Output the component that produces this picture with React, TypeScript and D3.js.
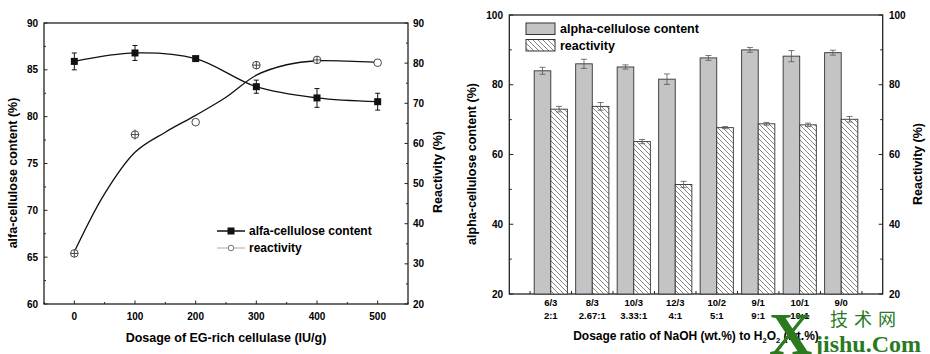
import { useEffect, useRef } from 'react';
import * as d3 from 'd3';

// left panel: EG-rich cellulase dosage
const dosage = [0, 100, 200, 300, 400, 500];
const alfaContent = [85.9, 86.8, 86.2, 83.2, 82.0, 81.6];
const alfaErr = [0.9, 0.8, 0.2, 0.7, 1.0, 0.9];
const reactivity = [32.6, 62.2, 65.3, 79.5, 80.8, 80.1];
const reactivityErr = [1.0, 1.2, 0, 1.0, 1.0, 0];
// smoothed curve for reactivity
const fitDosage = [0, 50, 100, 150, 200, 250, 300, 350, 400, 450, 500];
const reactivityFit = [33, 47.5, 57.8, 62.8, 67, 71.5, 77, 79.6, 80.6, 80.5, 80.2];
const leftTicksL = [60, 65, 70, 75, 80, 85, 90];
const leftTicksR = [20, 30, 40, 50, 60, 70, 80, 90];

// right panel: NaOH / H2O2 ratio
const ratioTop = ['6/3', '8/3', '10/3', '12/3', '10/2', '9/1', '10/1', '9/0'];
const ratioBottom = ['2:1', '2.67:1', '3.33:1', '4:1', '5:1', '9:1', '10:1', ''];
const alphaContent = [84.0, 86.0, 85.1, 81.6, 87.7, 90.0, 88.2, 89.2];
const alphaErr = [1.0, 1.3, 0.6, 1.5, 0.7, 0.7, 1.6, 0.7];
const ratioReactivity = [73.0, 73.8, 63.7, 51.4, 67.7, 68.8, 68.5, 70.1];
const ratioReactivityErr = [0.8, 1.1, 0.6, 0.9, 0.3, 0.4, 0.5, 0.8];
const rightTicks = [20, 40, 60, 80, 100];

const FONT = '"Liberation Sans", Arial, sans-serif';

export default function App() {
  const svgRef = useRef<SVGSVGElement>(null);

  useEffect(() => {
    if (!svgRef.current) return;
    const svg = d3.select(svgRef.current);
    svg.selectAll('*').remove();
    svg.style('font-family', FONT).style('font-weight', 'bold');

    const defs = svg.append('defs');
    const pat = defs
      .append('pattern')
      .attr('id', 'hatch')
      .attr('patternUnits', 'userSpaceOnUse')
      .attr('width', 5)
      .attr('height', 5);
    pat.append('rect').attr('width', 5).attr('height', 5).attr('fill', '#fff');
    pat
      .append('path')
      .attr('d', 'M-1,-1 L6,6 M-1,4 L1,6 M4,-1 L6,1')
      .attr('stroke', '#666')
      .attr('stroke-width', 0.8);

    // ---------------- left panel ----------------
    const L = { left: 44, right: 408, top: 23, bottom: 304 };
    const x1 = d3.scaleLinear().domain([-50, 550]).range([L.left, L.right]);
    const yL = d3.scaleLinear().domain([60, 90]).range([L.bottom, L.top]);
    const yR = d3.scaleLinear().domain([20, 90]).range([L.bottom, L.top]);
    const g1 = svg.append('g');

    g1.append('rect')
      .attr('x', L.left)
      .attr('y', L.top)
      .attr('width', L.right - L.left)
      .attr('height', L.bottom - L.top)
      .attr('fill', 'none')
      .attr('stroke', '#222')
      .attr('stroke-width', 1.3);

    // ticks (inward)
    d3.range(-50, 551, 50).forEach((v) => {
      const major = v % 100 === 0;
      g1.append('line')
        .attr('x1', x1(v))
        .attr('x2', x1(v))
        .attr('y1', L.bottom)
        .attr('y2', L.bottom - (major ? 3.5 : 2))
        .attr('stroke', '#222');
    });
    d3.range(60, 90.1, 2.5).forEach((v) => {
      const major = v % 5 === 0;
      g1.append('line')
        .attr('x1', L.left)
        .attr('x2', L.left + (major ? 3.5 : 2))
        .attr('y1', yL(v))
        .attr('y2', yL(v))
        .attr('stroke', '#222');
    });
    d3.range(20, 90.1, 5).forEach((v) => {
      const major = v % 10 === 0;
      g1.append('line')
        .attr('x1', L.right)
        .attr('x2', L.right - (major ? 3.5 : 2))
        .attr('y1', yR(v))
        .attr('y2', yR(v))
        .attr('stroke', '#222');
    });

    dosage.forEach((d) => {
      g1.append('text')
        .attr('x', x1(d))
        .attr('y', 319.5)
        .attr('text-anchor', 'middle')
        .style('font-size', '10px')
        .text(d);
    });
    leftTicksL.forEach((v) => {
      g1.append('text')
        .attr('x', 38)
        .attr('y', yL(v))
        .attr('dy', '0.35em')
        .attr('text-anchor', 'end')
        .style('font-size', '10px')
        .text(v);
    });
    leftTicksR.forEach((v) => {
      g1.append('text')
        .attr('x', 413)
        .attr('y', yR(v))
        .attr('dy', '0.35em')
        .style('font-size', '10px')
        .text(v);
    });

    g1.append('text')
      .attr('x', (L.left + L.right) / 2)
      .attr('y', 342)
      .attr('text-anchor', 'middle')
      .style('font-size', '12.5px')
      .text('Dosage of EG-rich cellulase (IU/g)');
    g1.append('text')
      .attr('transform', 'translate(17, 173) rotate(-90)')
      .attr('text-anchor', 'middle')
      .style('font-size', '12.5px')
      .text('alfa-cellulose content (%)');
    g1.append('text')
      .attr('transform', 'translate(442, 172) rotate(-90)')
      .attr('text-anchor', 'middle')
      .style('font-size', '12.5px')
      .text('Reactivity (%)');

    // alfa curve
    const alfaLine = d3
      .line<number>()
      .x((_, i) => x1(dosage[i]))
      .y((d) => yL(d))
      .curve(d3.curveCatmullRom);
    g1.append('path')
      .attr('d', alfaLine(alfaContent))
      .attr('fill', 'none')
      .attr('stroke', '#111')
      .attr('stroke-width', 1.3);

    const fitLine = d3
      .line<number>()
      .x((_, i) => x1(fitDosage[i]))
      .y((d) => yR(d))
      .curve(d3.curveCatmullRom);
    g1.append('path')
      .attr('d', fitLine(reactivityFit))
      .attr('fill', 'none')
      .attr('stroke', '#111')
      .attr('stroke-width', 1.3);

    // alfa error bars and squares
    alfaContent.forEach((v, i) => {
      const cx = x1(dosage[i]);
      const e = alfaErr[i];
      g1.append('line')
        .attr('x1', cx)
        .attr('x2', cx)
        .attr('y1', yL(v - e))
        .attr('y2', yL(v + e))
        .attr('stroke', '#111');
      [v - e, v + e].forEach((w) => {
        g1.append('line')
          .attr('x1', cx - 2.5)
          .attr('x2', cx + 2.5)
          .attr('y1', yL(w))
          .attr('y2', yL(w))
          .attr('stroke', '#111');
      });
      g1.append('rect')
        .attr('x', cx - 3.5)
        .attr('y', yL(v) - 3.5)
        .attr('width', 7)
        .attr('height', 7)
        .attr('fill', '#111');
    });

    // reactivity open circles
    reactivity.forEach((v, i) => {
      const cx = x1(dosage[i]);
      const cy = yR(v);
      g1.append('circle')
        .attr('cx', cx)
        .attr('cy', cy)
        .attr('r', 3.8)
        .attr('fill', '#fff')
        .attr('stroke', '#333')
        .attr('stroke-width', 0.9);
      const e = reactivityErr[i];
      if (e > 0) {
        g1.append('line')
          .attr('x1', cx)
          .attr('x2', cx)
          .attr('y1', yR(v - e))
          .attr('y2', yR(v + e))
          .attr('stroke', '#333')
          .attr('stroke-width', 0.9);
        g1.append('line')
          .attr('x1', cx - 3.8)
          .attr('x2', cx + 3.8)
          .attr('y1', cy)
          .attr('y2', cy)
          .attr('stroke', '#333')
          .attr('stroke-width', 0.9);
      }
    });

    // legend
    const lg = g1.append('g').attr('transform', 'translate(217, 231)');
    lg.append('line').attr('x1', 0).attr('x2', 28).attr('stroke', '#111').attr('stroke-width', 1.5);
    lg.append('rect').attr('x', 10.5).attr('y', -3.5).attr('width', 7).attr('height', 7).attr('fill', '#111');
    lg.append('text').attr('x', 32).attr('dy', '0.35em').style('font-size', '12px').text('alfa-cellulose content');
    lg.append('line').attr('x1', 0).attr('x2', 28).attr('y1', 17).attr('y2', 17).attr('stroke', '#aaa');
    lg.append('circle').attr('cx', 14).attr('cy', 17).attr('r', 2.8).attr('fill', '#fff').attr('stroke', '#777');
    lg.append('text').attr('x', 32).attr('y', 17).attr('dy', '0.35em').style('font-size', '12px').text('reactivity');

    // ---------------- right panel ----------------
    const R = { left: 509.3, right: 882.7, top: 15, bottom: 294 };
    const x2 = d3.scaleLinear().domain([0, 9]).range([R.left, R.right]);
    const y2 = d3.scaleLinear().domain([20, 100]).range([R.bottom, R.top]);
    const g2 = svg.append('g');
    const bw = x2(0.4) - x2(0);

    g2.append('rect')
      .attr('x', R.left)
      .attr('y', R.top)
      .attr('width', R.right - R.left)
      .attr('height', R.bottom - R.top)
      .attr('fill', 'none')
      .attr('stroke', '#222')
      .attr('stroke-width', 1.3);

    d3.range(20, 100.1, 10).forEach((v) => {
      const major = v % 20 === 0;
      [R.left, R.right].forEach((ax, k) => {
        const dir = k === 0 ? 1 : -1;
        g2.append('line')
          .attr('x1', ax)
          .attr('x2', ax + dir * (major ? 4 : 2.5))
          .attr('y1', y2(v))
          .attr('y2', y2(v))
          .attr('stroke', '#222');
      });
    });
    d3.range(0.5, 8.6, 1).forEach((v) => {
      g2.append('line')
        .attr('x1', x2(v))
        .attr('x2', x2(v))
        .attr('y1', R.bottom)
        .attr('y2', R.bottom - 3)
        .attr('stroke', '#222');
    });

    rightTicks.forEach((v) => {
      g2.append('text')
        .attr('x', 503)
        .attr('y', y2(v))
        .attr('dy', '0.35em')
        .attr('text-anchor', 'end')
        .style('font-size', '10px')
        .text(v);
      g2.append('text')
        .attr('x', 889)
        .attr('y', y2(v))
        .attr('dy', '0.35em')
        .style('font-size', '10px')
        .text(v);
    });

    alphaContent.forEach((v, i) => {
      const cx = x2(i + 1);
      // gray bar
      g2.append('rect')
        .attr('x', cx - bw)
        .attr('y', y2(v))
        .attr('width', bw)
        .attr('height', R.bottom - y2(v))
        .attr('fill', '#c4c4c4')
        .attr('stroke', '#333')
        .attr('stroke-width', 0.9);
      // hatched bar
      const r = ratioReactivity[i];
      g2.append('rect')
        .attr('x', cx)
        .attr('y', y2(r))
        .attr('width', bw)
        .attr('height', R.bottom - y2(r))
        .attr('fill', 'url(#hatch)')
        .attr('stroke', '#333')
        .attr('stroke-width', 0.9);

      const bars: [number, number, number][] = [
        [cx - bw / 2, v, alphaErr[i]],
        [cx + bw / 2, r, ratioReactivityErr[i]],
      ];
      bars.forEach(([bx, val, e]) => {
        g2.append('line')
          .attr('x1', bx)
          .attr('x2', bx)
          .attr('y1', y2(val - e))
          .attr('y2', y2(val + e))
          .attr('stroke', '#555')
          .attr('stroke-width', 0.8);
        [val - e, val + e].forEach((w) => {
          g2.append('line')
            .attr('x1', bx - 3)
            .attr('x2', bx + 3)
            .attr('y1', y2(w))
            .attr('y2', y2(w))
            .attr('stroke', '#555')
            .attr('stroke-width', 0.8);
        });
      });

      g2.append('text')
        .attr('x', cx)
        .attr('y', 305.5)
        .attr('text-anchor', 'middle')
        .style('font-size', '9.5px')
        .text(ratioTop[i]);
      g2.append('text')
        .attr('x', cx)
        .attr('y', 319)
        .attr('text-anchor', 'middle')
        .style('font-size', '9.5px')
        .text(ratioBottom[i]);
    });

    // x title with subscripts
    const xt = g2
      .append('text')
      .attr('x', (R.left + R.right) / 2)
      .attr('y', 340)
      .attr('text-anchor', 'middle')
      .style('font-size', '12px');
    xt.append('tspan').text('Dosage ratio of NaOH (wt.%) to H');
    xt.append('tspan').attr('dy', 3).style('font-size', '7.5px').text('2');
    xt.append('tspan').attr('dy', -3).text('O');
    xt.append('tspan').attr('dy', 3).style('font-size', '7.5px').text('2');
    xt.append('tspan').attr('dy', -3).text(' (wt.%)');

    g2.append('text')
      .attr('transform', 'translate(476, 164) rotate(-90)')
      .attr('text-anchor', 'middle')
      .style('font-size', '12.5px')
      .text('alpha-cellulose content (%)');
    g2.append('text')
      .attr('transform', 'translate(922, 164) rotate(-90)')
      .attr('text-anchor', 'middle')
      .style('font-size', '12.5px')
      .text('Reactivity (%)');

    // legend
    const lg2 = g2.append('g').attr('transform', 'translate(526, 23)');
    lg2.append('rect').attr('width', 29).attr('height', 11.5).attr('fill', '#c4c4c4').attr('stroke', '#333');
    lg2.append('text').attr('x', 34).attr('y', 6).attr('dy', '0.35em').style('font-size', '12.5px').text('alpha-cellulose content');
    lg2.append('rect').attr('y', 16.5).attr('width', 29).attr('height', 11.5).attr('fill', 'url(#hatch)').attr('stroke', '#333');
    lg2.append('text').attr('x', 34).attr('y', 22.5).attr('dy', '0.35em').style('font-size', '12.5px').text('reactivity');

    // site watermark
    const wm = svg.append('g').style('fill', '#2b7a1f');
    wm.append('text')
      .attr('x', 769)
      .attr('y', 354)
      .style('font-family', '"Liberation Serif", "DejaVu Serif", serif')
      .style('font-size', '60px')
      .text('X');
    wm.append('text')
      .attr('x', 830)
      .attr('y', 326)
      .style('font-family', '"Noto Sans CJK SC", sans-serif')
      .style('font-weight', 'normal')
      .style('font-size', '18px')
      .style('letter-spacing', '6px')
      .text('技术网');
    wm.append('text')
      .attr('x', 815)
      .attr('y', 352)
      .style('font-family', '"Liberation Serif", "DejaVu Serif", serif')
      .style('font-size', '24px')
      .text('jishu.Com');
  }, []);

  return (
    <svg
      ref={svgRef}
      width={930}
      height={354}
      style={{ position: 'absolute', left: 0, top: 0, background: '#fff' }}
    />
  );
}
